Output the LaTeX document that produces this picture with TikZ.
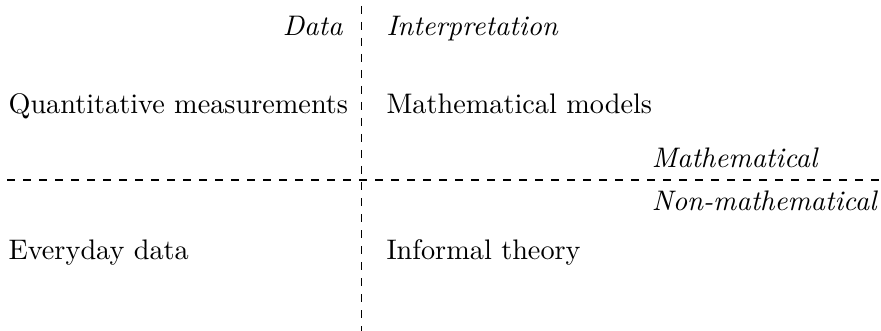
\documentclass[tikz,border=0pt]{standalone}
\usetikzlibrary{positioning}
\newcommand{\diagfont}{\fontsize{10.6pt}{13pt}\selectfont}
\begin{document}
\begin{tikzpicture}[x=0.375pt,y=-0.375pt,
    lbl/.style={inner sep=0pt,anchor=base west,font=\diagfont},
    head/.style={lbl,font=\diagfont\itshape},
    divider/.style={dashed,line width=0.4pt}]
\useasboundingbox (0,0) rectangle (881,331);
\coordinate (vtop) at (361.5,6);
\coordinate (vbot) at (361.5,331);
\coordinate (hleft) at (7,180);
\coordinate (hright) at (881,180);
\draw[divider] (vtop) -- (vbot);
\draw[divider] (hleft) -- (hright);
\node[head,anchor=base east] (data) at (343,36) {Data};
\node[head] (interp) at (386,36) {Interpretation};
\node[lbl] (quant) at (8,114) {Quantitative measurements};
\node[lbl] (models) at (386,114) {Mathematical models};
\node[head,anchor=base east] (nonmath) at (877,210) {Non-mathematical};
\coordinate (mathpos) at (0,167);
\node[head] (math) at (nonmath.base west |- mathpos) {Mathematical};
\node[lbl] (everyday) at (8,259) {Everyday data};
\node[lbl] (informal) at (386,259) {Informal theory};
\end{tikzpicture}
\end{document}
